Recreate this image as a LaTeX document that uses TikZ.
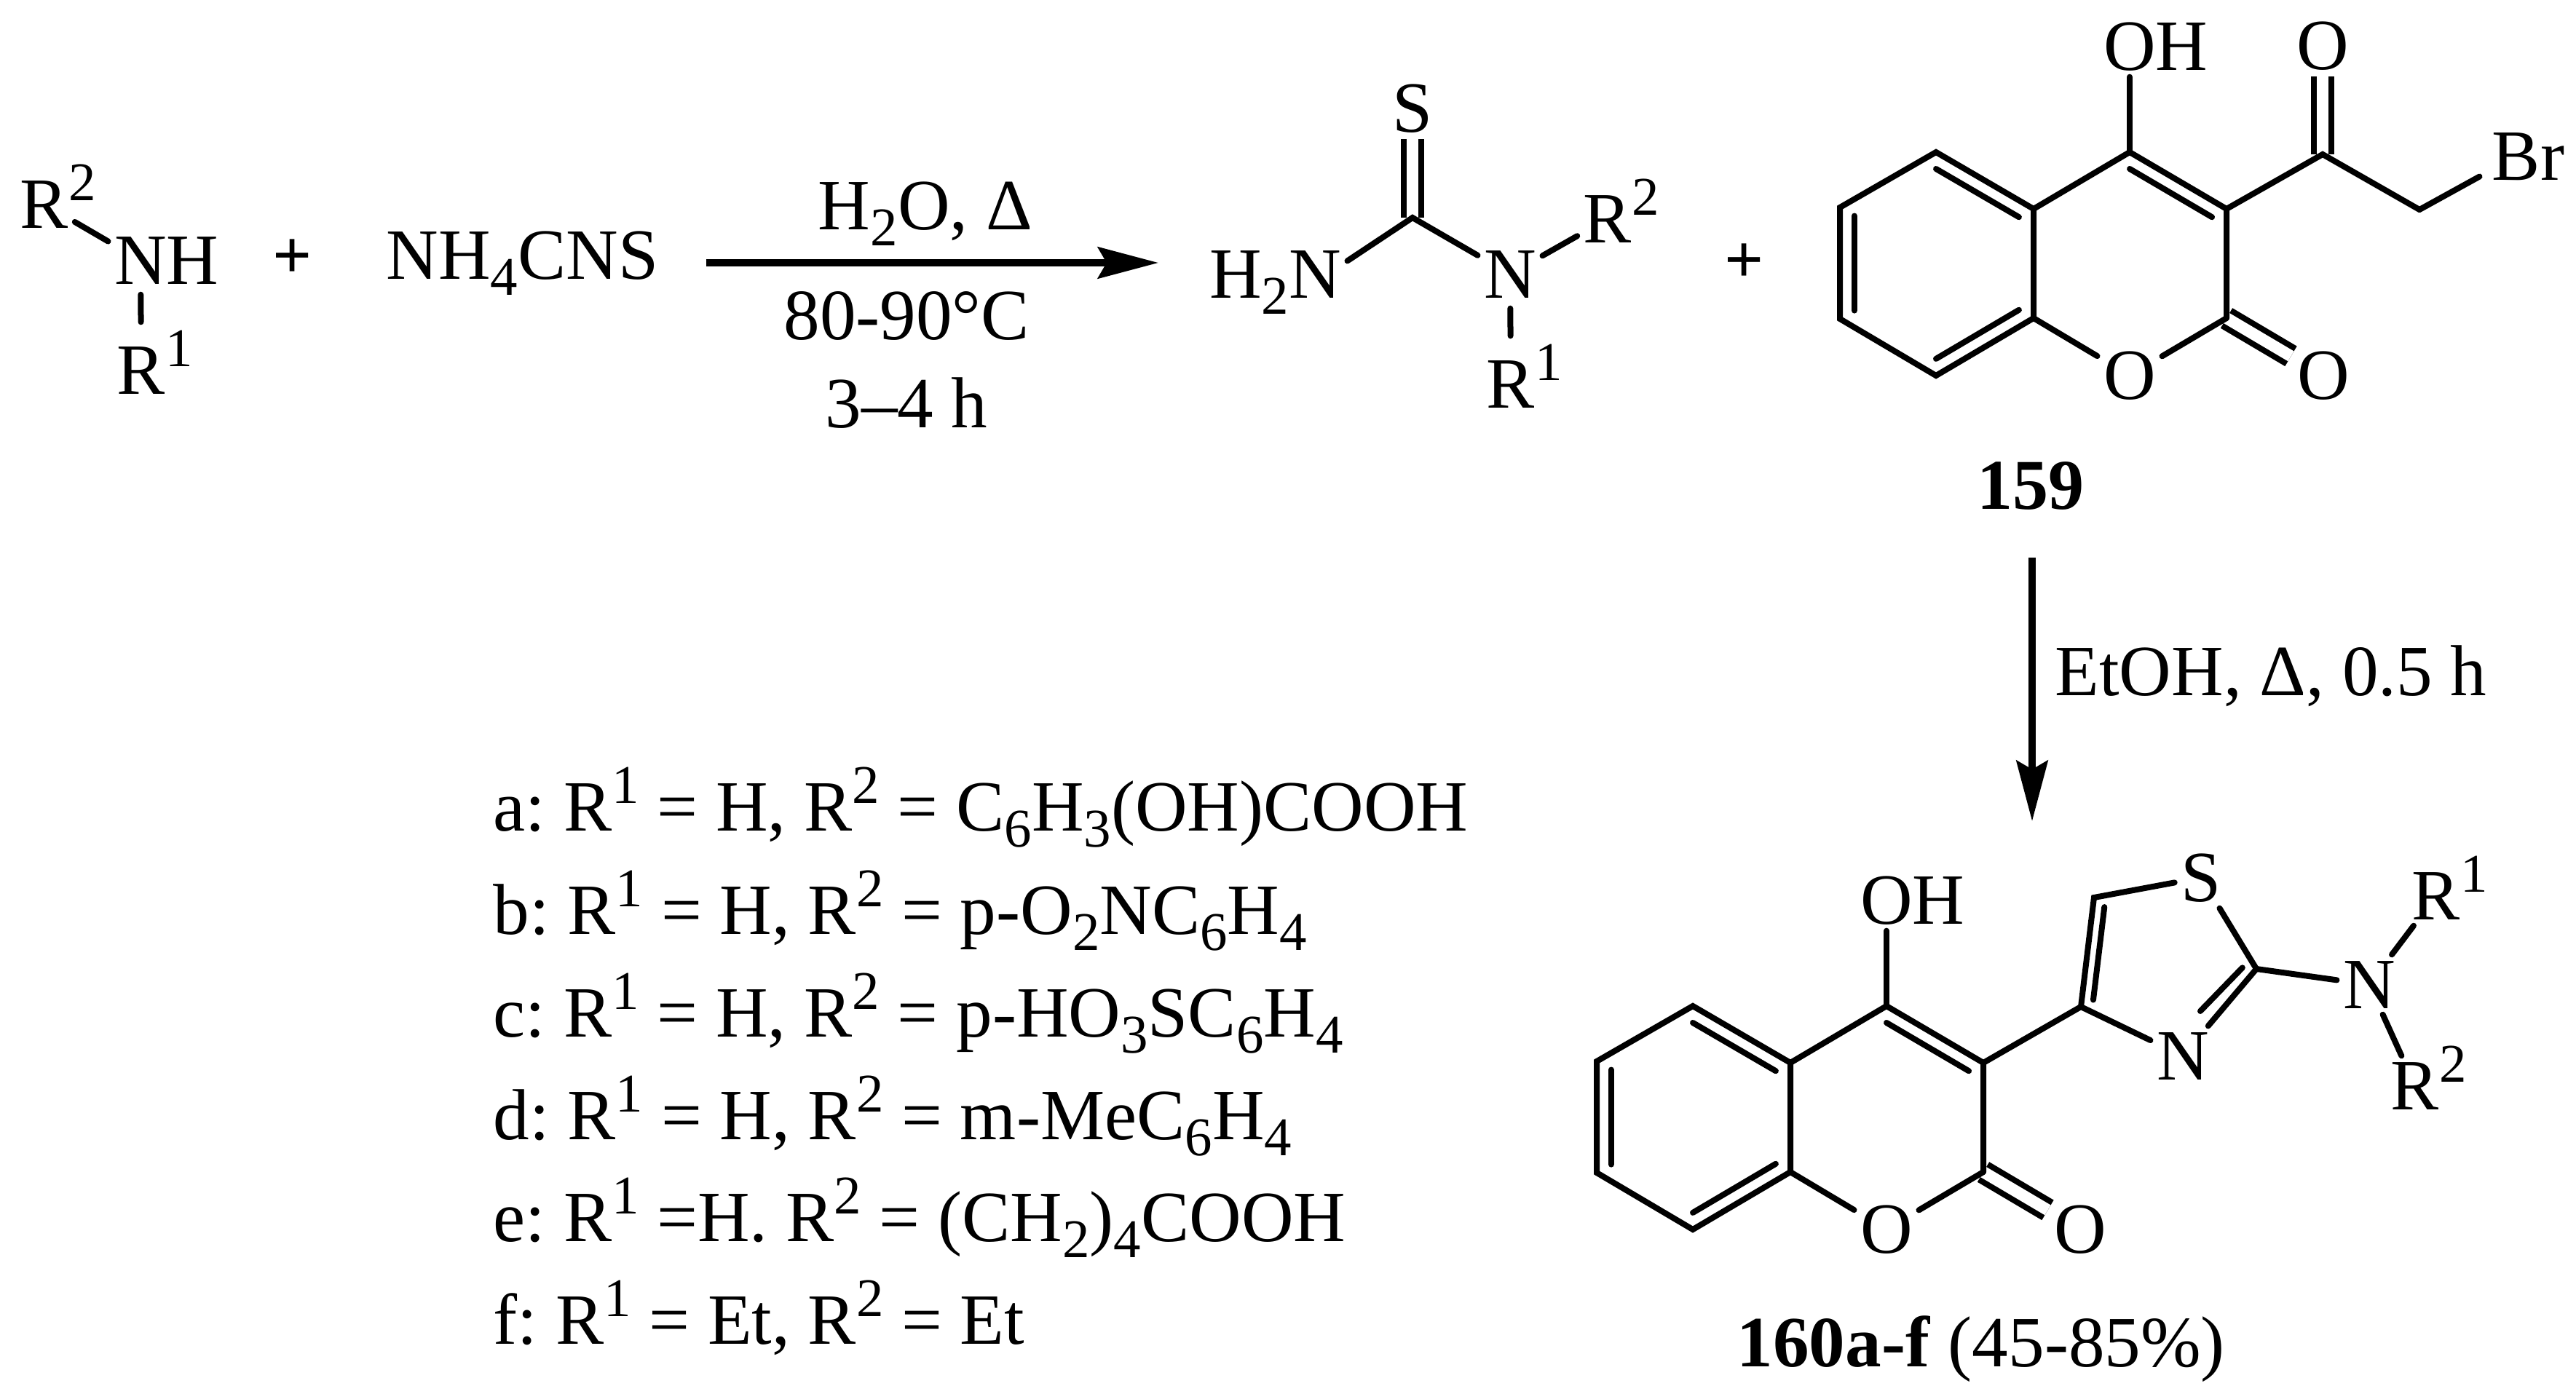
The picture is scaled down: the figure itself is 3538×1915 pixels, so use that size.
\documentclass[tikz,border=0pt]{standalone}
\usepackage{fontspec}
\setmainfont{Liberation Serif}
\usetikzlibrary{calc,arrows.meta}
\frenchspacing
\newcommand{\up}[1]{\raisebox{.38em}{\fontsize{21.3}{21.3}\selectfont #1}}
\newcommand{\dn}[1]{\raisebox{-.23em}{\fontsize{21.3}{21.3}\selectfont #1}}
\newcommand{\rup}[1]{\rlap{\smash{\up{#1}}}}
\begin{document}
\begin{tikzpicture}[x=0.01cm,y=-0.01cm,
		every node/.style={font=\fontsize{28.2}{28.2}\selectfont,inner sep=0pt},
		atom/.style={anchor=base,inner sep=.08cm},
		bond/.style={line width=.08cm,line cap=round,line join=miter},
		dbond/.style={line width=.08cm,double,double distance=.16cm},
		rarrow/.style={line width=.095cm,-{Stealth[length=.83cm,width=.43cm,inset=.12cm]}},
		plussign/.style={font=\fontsize{27}{27}\selectfont\bfseries}]
	\useasboundingbox (0,0) rectangle (3538,1915);
	\def\lk{.15}%inner line of a ring
	\def\inbond#1#2#3{\draw[bond] ($(#1)!\lk!(#3)$)--($(#2)!\lk!(#3)$);}
	\def\coumarin(#1,#2)#3{
		\begin{scope}[shift={(#1,#2)},name prefix=#3]
			\coordinate (c5) at (132,0);
			\coordinate (c6) at (0,76);
			\coordinate (c7) at (0,229);
			\coordinate (c8) at (132,307);
			\coordinate (c4a) at (266,78);
			\coordinate (c8a) at (266,228);
			\coordinate (c4) at (398,0);
			\coordinate (c3) at (531,78);
			\coordinate (c2) at (531,228);
			\coordinate (bz) at (132,153);
			\coordinate (py) at (398,153);
			\node[atom] (o1) at (398,339) {O};
			\node[atom] (o2) at (664,339) {O};
			\node[atom] (oh) at (398,-113) {O\rlap{H}};
			\draw[dbond] (c2)--(o2);
			\draw[bond] (c4a)--(c5)--(c6)--(c7)--(c8)--(c8a)--cycle;
			\draw[bond] (c4a)--(c4)--(c3)--(c2);
			\draw[bond] (c8a)--(o1)--(c2);
			\draw[bond] (c4)--(oh);
			\inbond{c5}{c4a}{bz}
			\inbond{c6}{c7}{bz}
			\inbond{c8}{c8a}{bz}
			\inbond{c4}{c3}{py}
		\end{scope}
	}
	%amin
	\node[atom] (a-r2) at (61,313) {R\rup{2}};
	\node[atom] (a-n) at (193,390) {N\rlap{H}};
	\node[atom] (a-r1) at (194,541) {R\rup{1}};
	\draw[bond] (a-r2)--(a-n);
	\draw[bond,shorten <=.06cm,shorten >=.25cm] (a-n)--(a-r1);
	\node[plussign,anchor=center] (plusa) at (402,356) {+};
	\node[anchor=base west] (thiocyanate) at (530,383) {NH\dn{4}CNS};
	%first arrow
	\coordinate (arra) at (970,361);
	\coordinate (arrb) at (1591,361);
	\draw[rarrow] (arra)--(arrb);
	\node[anchor=base] (cond1) at (1271,315) {H\dn{2}O, Δ};
	\node[anchor=base] (cond2) at (1245,466) {80-90°C};
	\node[anchor=base] (cond3) at (1245,587) {3–4 h};
	%thiourea
	\coordinate (t-c) at (1940,299);
	\node[atom] (t-s) at (1940,181) {S};
	\node[atom] (t-nh) at (1806,409) {\llap{H\dn{2}}N};
	\node[atom] (t-n) at (2074,409) {N};
	\node[atom] (t-r2) at (2208,333) {R\rup{2}};
	\node[atom] (t-r1) at (2075,560) {R\rup{1}};
	\draw[dbond] (t-c)--(t-s);
	\draw[bond] (t-nh)--(t-c)--(t-n);
	\draw[bond] (t-n)--(t-r2);
	\draw[bond,shorten <=.06cm,shorten >=.25cm] (t-n)--(t-r1);
	\node[plussign,anchor=center] (plusb) at (2396,362) {+};
	%159
	\coumarin(2527,209){u-}
	\coordinate (u-ck) at (3190,212);
	\coordinate (u-ch) at (3323,288);
	\node[atom] (u-ok) at (3190,95) {O};
	\node[atom] (u-br) at (3456,247) {B\rlap{r}};
	\draw[dbond] (u-ck)--(u-ok);
	\draw[bond] (u-c3)--(u-ck)--(u-ch);
	\draw[bond,shorten >=.1cm] (u-ch)--(u-br);
	\node[anchor=base,font=\fontsize{27.9}{27.9}\selectfont\bfseries] (n159) at (2789,699) {159};
	%second arrow
	\coordinate (arrc) at (2791,766);
	\coordinate (arrd) at (2791,1128);
	\draw[rarrow] (arrc)--(arrd);
	\node[anchor=base west] (cond4) at (2822,955) {EtOH, Δ, 0.5 h};
	%table of R
	\foreach \lt/\yy/\txt in {
		a/1141/{a: R\up{1} = H, R\up{2} = C\dn{6}H\dn{3}(OH)COOH},
		b/1283/{b: R\up{1} = H, R\up{2} = p-O\dn{2}NC\dn{6}H\dn{4}},
		c/1424/{c: R\up{1} = H, R\up{2} = p-HO\dn{3}SC\dn{6}H\dn{4}},
		d/1565/{d: R\up{1} = H, R\up{2} = m-MeC\dn{6}H\dn{4}},
		e/1705/{e: R\up{1} =H. R\up{2} = (CH\dn{2})\dn{4}COOH},
		f/1846/{f: R\up{1} = Et, R\up{2} = Et}}{
		\node[anchor=base west] (line\lt) at (677,\yy) {\txt};
	}
	%160
	\coumarin(2193,1382){v-}
	\coordinate (v-c4t) at (2858,1383);
	\coordinate (v-c5t) at (2876,1233);
	\coordinate (v-c2t) at (3099,1331);
	\coordinate (v-ct) at (2971,1320);
	\coordinate (v-nin) at (3022,1389);
	\node[atom] (v-s) at (3023,1238) {S};
	\node[atom] (v-nt) at (2998,1483) {N};
	\node[atom] (v-na) at (3254,1385) {N};
	\node[atom] (v-r1) at (3346,1263) {R\rup{1}};
	\node[atom] (v-r2) at (3317,1524) {R\rup{2}};
	\draw[bond] (v-c3)--(v-c4t)--(v-c5t)--(v-s)--(v-c2t)--(v-nt)--(v-c4t);
	\draw[bond] (v-c2t)--(v-na);
	\draw[bond] (v-na)--(v-r1);
	\draw[bond] (v-na)--(v-r2);
	\inbond{v-c4t}{v-c5t}{v-ct}
	\draw[bond] ($(v-c2t)!\lk!(v-ct)$)--(v-nin);
	\node[anchor=base west] (n160) at (2385,1877) {\textbf{160a-f} (45-85\%)};
\end{tikzpicture}
\end{document}
